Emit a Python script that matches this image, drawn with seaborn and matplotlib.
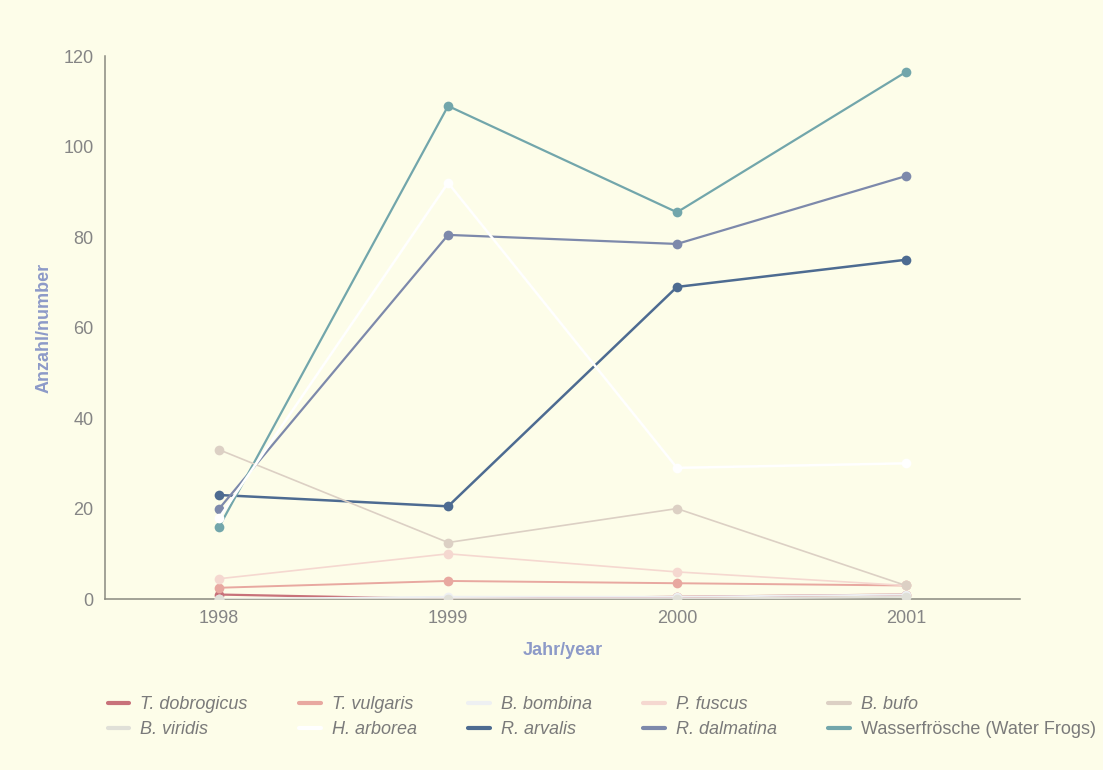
import seaborn as sns
import matplotlib.pyplot as plt
import pandas as pd
from matplotlib.lines import Line2D

# data
years = [1998, 1999, 2000, 2001]
species = ["T. dobrogicus", "T. vulgaris", "B. bombina", "P. fuscus", "B. bufo",
           "B. viridis", "H. arborea", "R. arvalis", "R. dalmatina",
           "Wasserfrösche (Water Frogs)"]
t_dobrogicus = [1, 0, 0.5, 1]
t_vulgaris = [2.5, 4, 3.5, 3]
b_bombina = [0, 0.5, 0.5, 1]
p_fuscus = [4.5, 10, 6, 3]
b_bufo = [33, 12.5, 20, 3]
b_viridis = [0, 0, 0, 0.5]
h_arborea = [18, 92, 29, 30]
r_arvalis = [23, 20.5, 69, 75]
r_dalmatina = [20, 80.5, 78.5, 93.5]
wasser = [16, 109, 85.5, 116.5]
values = [t_dobrogicus, t_vulgaris, b_bombina, p_fuscus, b_bufo,
          b_viridis, h_arborea, r_arvalis, r_dalmatina, wasser]

colors = ["#c8727a", "#e8a8a0", "#eef0f2", "#f5d8d0", "#dcd0c4",
          "#e0e0d8", "#ffffff", "#4d6b91", "#7d89ab", "#72a6ab"]
widths = [1.6, 1.4, 1.4, 1.2, 1.2, 1.4, 1.8, 1.8, 1.6, 1.6]
zorders = [3, 3, 4, 3, 5, 4, 6, 2, 2, 2]

rows = []
for name, vals in zip(species, values):
    for y, v in zip(years, vals):
        rows.append({"species": name, "year": y, "count": v})
df = pd.DataFrame(rows)

bg = "#fdfde9"
sns.set_style("white")
plt.rcParams["font.family"] = ["Liberation Sans", "DejaVu Sans"]

fig = plt.figure(figsize=(11.03, 7.7), dpi=100, facecolor=bg)
ax = fig.add_axes([0.095, 0.222, 0.83, 0.705], facecolor=bg)

for name, col, lw, z in zip(species, colors, widths, zorders):
    sns.lineplot(data=df[df["species"] == name], x="year", y="count",
                 color=col, marker="o", markersize=7, markeredgewidth=0,
                 linewidth=lw, ax=ax, zorder=z, legend=False)

ax.set_xlim(1997.5, 2001.5)
ax.set_ylim(0, 120)
ax.set_xticks(years)
ax.set_yticks(range(0, 121, 20))
ax.tick_params(length=0, labelsize=13, labelcolor="#858585", pad=8)
for s in ["top", "right"]:
    ax.spines[s].set_visible(False)
for s in ["left", "bottom"]:
    ax.spines[s].set_color("#8a8a80")
    ax.spines[s].set_linewidth(1.1)

ax.set_xlabel("Jahr/year", fontsize=13, fontweight="bold", color="#8d9ac8", labelpad=11)
ax.set_ylabel("Anzahl/number", fontsize=13, fontweight="bold", color="#8d9ac8", labelpad=8)

# legend, column-major order for 2 rows x 5 columns
order = [0, 5, 1, 6, 2, 7, 3, 8, 4, 9]
handles = [Line2D([0], [0], color=colors[i], linewidth=3) for i in order]
labels = [species[i] for i in order]
leg = fig.legend(handles, labels, loc="lower left", bbox_to_anchor=(0.083, 0.02),
                 ncol=5, frameon=False, fontsize=13, handlelength=1.2,
                 handletextpad=0.6, columnspacing=2.85, labelspacing=0.45)
for t in leg.get_texts():
    t.set_color("#7a7a7a")
    if not t.get_text().startswith("Wasser"):
        t.set_fontstyle("italic")

fig.savefig("out.png", dpi=100, facecolor=bg)
